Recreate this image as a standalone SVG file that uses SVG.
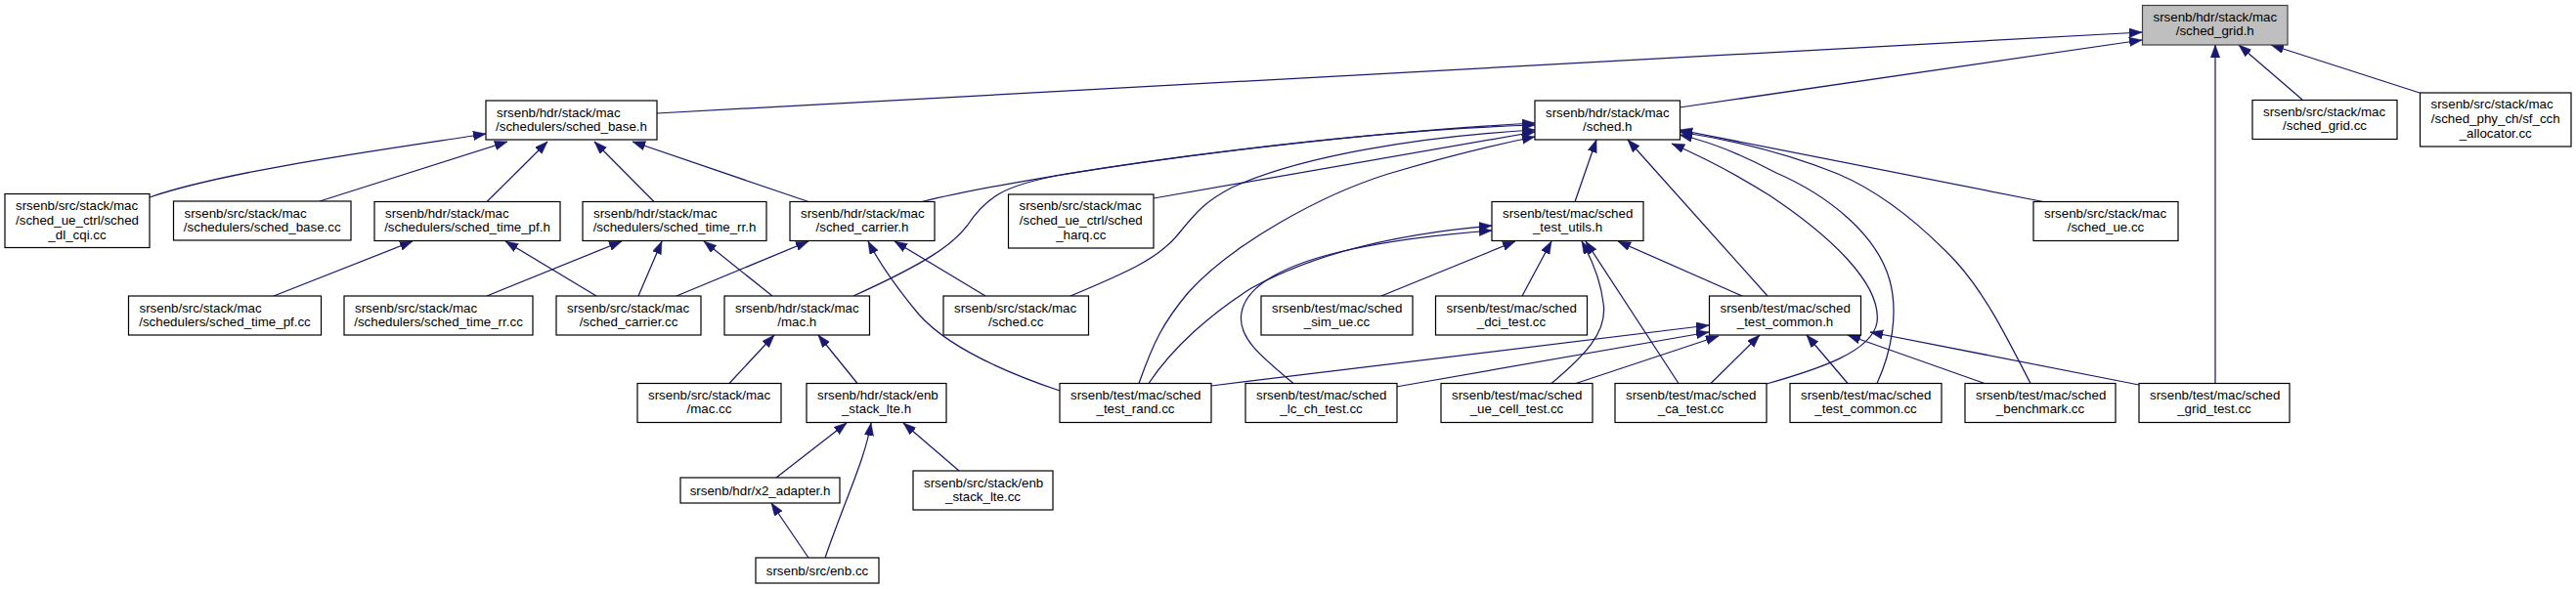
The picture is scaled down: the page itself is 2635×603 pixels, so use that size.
<svg xmlns="http://www.w3.org/2000/svg" width="2635" height="603" viewBox="0 0 2635 603">
<style>
.node rect{fill:#ffffff;stroke:#000000;stroke-width:1.2}
.node.cur rect{fill:#bfbfbf;stroke:#404040}
.node text{font-family:"Liberation Sans",Arial,Helvetica,sans-serif;font-size:13.33px;fill:#000000}
.s{text-anchor:start}
.m{text-anchor:middle}
#edges path{fill:none;stroke:#191970;stroke-width:1.25;marker-end:url(#ah)}
</style>
<defs>
<marker id="ah" markerUnits="userSpaceOnUse" markerWidth="14" markerHeight="10" refX="13" refY="4.7" orient="auto">
<path d="M0,0 L13,4.7 L0,9.4 Z" fill="#191970" stroke="#191970" stroke-width="0.5"/>
</marker>
</defs>
<rect x="0" y="0" width="2635" height="603" fill="#ffffff"/>
<g id="edges">
<path d="M672,116 L2191,33"/>
<path d="M1718,110 L2191,41"/>
<path d="M2355,102 L2290,46"/>
<path d="M2475,95 L2323,46"/>
<path d="M2266,392.5 L2266,46"/>
<path d="M153,202 C230,175 400,152 497,137"/>
<path d="M327,206 L519,145"/>
<path d="M498,206.5 L560,145"/>
<path d="M669,206.5 L608,145"/>
<path d="M827,206.5 L647,145"/>
<path d="M943,206.5 C1050,180 1350,135 1570,128"/>
<path d="M873,303 C950,268 975,250 990,230 C1010,200 1030,190 1080,180 C1200,160 1400,135 1570,126"/>
<path d="M1180,203 L1570,135"/>
<path d="M1095,303 C1150,280 1185,265 1205,240 C1225,215 1235,205 1260,192 C1330,160 1450,140 1570,133"/>
<path d="M1165,392.5 C1180,350 1190,330 1215,300 C1260,250 1350,200 1420,178 C1480,160 1530,148 1570,140"/>
<path d="M1611,206.5 L1633,143"/>
<path d="M1808,303 L1665,143"/>
<path d="M2090,206.5 L1718,133"/>
<path d="M1807,393 C1860,378 1915,360 1920,330 C1925,290 1870,240 1810,200 C1775,178 1740,160 1710,147"/>
<path d="M1920,392.5 C1935,360 1942,320 1933,287 C1920,240 1870,200 1817,177 C1785,160 1750,145 1718,138"/>
<path d="M2077,392.5 C2050,340 2030,300 2000,267 C1960,225 1920,195 1880,178 C1830,158 1770,143 1718,135"/>
<path d="M746,392.5 L792,343"/>
<path d="M877,392.5 L837,343"/>
<path d="M794,489 L866,433"/>
<path d="M844,571 C865,510 885,470 891,433"/>
<path d="M981,482 L924,433"/>
<path d="M827,571 L789,515"/>
<path d="M280,303 L422,247"/>
<path d="M610,303 L517,247"/>
<path d="M498,303 L636,247"/>
<path d="M653,303 L677,247"/>
<path d="M790,303 L720,247"/>
<path d="M692,303 L827,247"/>
<path d="M1008,303 L915,247"/>
<path d="M1084,400 C1010,375 965,350 940,322 C920,298 900,270 888,247"/>
<path d="M1413,303 L1550,247"/>
<path d="M1557,303 L1587,247"/>
<path d="M1175,392.5 C1200,355 1240,320 1280,295 C1340,262 1420,240 1526,231"/>
<path d="M1323,392.5 C1290,365 1265,345 1270,320 C1275,290 1320,270 1370,258 C1420,246 1470,240 1526,236"/>
<path d="M1587,392.5 C1620,365 1645,340 1640,310 C1637,285 1628,265 1618,247"/>
<path d="M1717,392.5 L1622,247"/>
<path d="M1782,303 L1655,247"/>
<path d="M1239,395 L1748,333"/>
<path d="M1428,396 L1748,340"/>
<path d="M1612,392.5 L1758,344"/>
<path d="M1750,392.5 L1800,343"/>
<path d="M1890,392.5 L1848,343"/>
<path d="M2030,392.5 L1890,343"/>
<path d="M2188,394 L1913,340"/>
</g>
<g id="n_sched_grid_h" class="node cur"><rect x="2191.5" y="5.5" width="148.5" height="40.5"/><text class="s" x="2202.5" y="22">srsenb/hdr/stack/mac</text><text class="m" x="2265.75" y="36">/sched_grid.h</text></g>
<g id="n_sched_base_h" class="node"><rect x="497" y="103" width="175" height="40"/><text class="s" x="508" y="119.5">srsenb/hdr/stack/mac</text><text class="m" x="584.5" y="133.5">/schedulers/sched_base.h</text></g>
<g id="n_sched_h" class="node"><rect x="1570" y="103" width="148.5" height="40"/><text class="s" x="1581" y="119.5">srsenb/hdr/stack/mac</text><text class="m" x="1644.25" y="133.5">/sched.h</text></g>
<g id="n_sched_grid_cc" class="node"><rect x="2304" y="102.5" width="148" height="40"/><text class="s" x="2315" y="119">srsenb/src/stack/mac</text><text class="m" x="2378" y="133">/sched_grid.cc</text></g>
<g id="n_sf_cch_allocator_cc" class="node"><rect x="2475.5" y="95" width="154.5" height="55"/><text class="s" x="2486.5" y="111">srsenb/src/stack/mac</text><text class="m" x="2552.75" y="126">/sched_phy_ch/sf_cch</text><text class="m" x="2552.75" y="141">_allocator.cc</text></g>
<g id="n_sched_dl_cqi_cc" class="node"><rect x="5" y="198.5" width="148" height="55"/><text class="s" x="16" y="214.5">srsenb/src/stack/mac</text><text class="m" x="79" y="229.5">/sched_ue_ctrl/sched</text><text class="m" x="79" y="244.5">_dl_cqi.cc</text></g>
<g id="n_sched_base_cc" class="node"><rect x="177.5" y="206" width="181.5" height="40"/><text class="s" x="188.5" y="222.5">srsenb/src/stack/mac</text><text class="m" x="268.25" y="236.5">/schedulers/sched_base.cc</text></g>
<g id="n_sched_time_pf_h" class="node"><rect x="383" y="206.5" width="190" height="40"/><text class="s" x="394" y="223">srsenb/hdr/stack/mac</text><text class="m" x="478" y="237">/schedulers/sched_time_pf.h</text></g>
<g id="n_sched_time_rr_h" class="node"><rect x="596" y="206.5" width="188" height="40"/><text class="s" x="607" y="223">srsenb/hdr/stack/mac</text><text class="m" x="690" y="237">/schedulers/sched_time_rr.h</text></g>
<g id="n_sched_carrier_h" class="node"><rect x="808" y="206.5" width="148" height="40"/><text class="s" x="819" y="223">srsenb/hdr/stack/mac</text><text class="m" x="882" y="237">/sched_carrier.h</text></g>
<g id="n_sched_harq_cc" class="node"><rect x="1031.5" y="199" width="148.5" height="55"/><text class="s" x="1042.5" y="215">srsenb/src/stack/mac</text><text class="m" x="1105.75" y="230">/sched_ue_ctrl/sched</text><text class="m" x="1105.75" y="245">_harq.cc</text></g>
<g id="n_sched_test_utils_h" class="node"><rect x="1526" y="206.5" width="155" height="40"/><text class="s" x="1537" y="223">srsenb/test/mac/sched</text><text class="m" x="1603.5" y="237">_test_utils.h</text></g>
<g id="n_sched_ue_cc" class="node"><rect x="2080" y="206.5" width="148" height="40"/><text class="s" x="2091" y="223">srsenb/src/stack/mac</text><text class="m" x="2154" y="237">/sched_ue.cc</text></g>
<g id="n_sched_time_pf_cc" class="node"><rect x="131.5" y="303" width="197" height="40"/><text class="s" x="142.5" y="319.5">srsenb/src/stack/mac</text><text class="m" x="230" y="333.5">/schedulers/sched_time_pf.cc</text></g>
<g id="n_sched_time_rr_cc" class="node"><rect x="352" y="303" width="193" height="40"/><text class="s" x="363" y="319.5">srsenb/src/stack/mac</text><text class="m" x="448.5" y="333.5">/schedulers/sched_time_rr.cc</text></g>
<g id="n_sched_carrier_cc" class="node"><rect x="569" y="303" width="148" height="40"/><text class="s" x="580" y="319.5">srsenb/src/stack/mac</text><text class="m" x="643" y="333.5">/sched_carrier.cc</text></g>
<g id="n_mac_h" class="node"><rect x="741" y="303" width="148.5" height="40"/><text class="s" x="752" y="319.5">srsenb/hdr/stack/mac</text><text class="m" x="815.25" y="333.5">/mac.h</text></g>
<g id="n_sched_cc" class="node"><rect x="965" y="303" width="148.5" height="40"/><text class="s" x="976" y="319.5">srsenb/src/stack/mac</text><text class="m" x="1039.25" y="333.5">/sched.cc</text></g>
<g id="n_sched_sim_ue_cc" class="node"><rect x="1290" y="303" width="155" height="40"/><text class="s" x="1301" y="319.5">srsenb/test/mac/sched</text><text class="m" x="1367.5" y="333.5">_sim_ue.cc</text></g>
<g id="n_sched_dci_test_cc" class="node"><rect x="1468.5" y="303" width="155" height="40"/><text class="s" x="1479.5" y="319.5">srsenb/test/mac/sched</text><text class="m" x="1546" y="333.5">_dci_test.cc</text></g>
<g id="n_sched_test_common_h" class="node"><rect x="1748.5" y="303" width="155" height="40"/><text class="s" x="1759.5" y="319.5">srsenb/test/mac/sched</text><text class="m" x="1826" y="333.5">_test_common.h</text></g>
<g id="n_mac_cc" class="node"><rect x="652" y="392.5" width="147" height="40"/><text class="s" x="663" y="409">srsenb/src/stack/mac</text><text class="m" x="725.5" y="423">/mac.cc</text></g>
<g id="n_enb_stack_lte_h" class="node"><rect x="825" y="392.5" width="143" height="40"/><text class="s" x="836" y="409">srsenb/hdr/stack/enb</text><text class="m" x="896.5" y="423">_stack_lte.h</text></g>
<g id="n_sched_test_rand_cc" class="node"><rect x="1084" y="392.5" width="155" height="40"/><text class="s" x="1095" y="409">srsenb/test/mac/sched</text><text class="m" x="1161.5" y="423">_test_rand.cc</text></g>
<g id="n_sched_lc_ch_test_cc" class="node"><rect x="1274" y="392.5" width="155" height="40"/><text class="s" x="1285" y="409">srsenb/test/mac/sched</text><text class="m" x="1351.5" y="423">_lc_ch_test.cc</text></g>
<g id="n_sched_ue_cell_test_cc" class="node"><rect x="1474" y="392.5" width="155" height="40"/><text class="s" x="1485" y="409">srsenb/test/mac/sched</text><text class="m" x="1551.5" y="423">_ue_cell_test.cc</text></g>
<g id="n_sched_ca_test_cc" class="node"><rect x="1652" y="392.5" width="155" height="40"/><text class="s" x="1663" y="409">srsenb/test/mac/sched</text><text class="m" x="1729.5" y="423">_ca_test.cc</text></g>
<g id="n_sched_test_common_cc" class="node"><rect x="1831" y="392.5" width="155" height="40"/><text class="s" x="1842" y="409">srsenb/test/mac/sched</text><text class="m" x="1908.5" y="423">_test_common.cc</text></g>
<g id="n_sched_benchmark_cc" class="node"><rect x="2010" y="392.5" width="154" height="40"/><text class="s" x="2021" y="409">srsenb/test/mac/sched</text><text class="m" x="2087" y="423">_benchmark.cc</text></g>
<g id="n_sched_grid_test_cc" class="node"><rect x="2188" y="392.5" width="154" height="40"/><text class="s" x="2199" y="409">srsenb/test/mac/sched</text><text class="m" x="2265" y="423">_grid_test.cc</text></g>
<g id="n_x2_adapter_h" class="node"><rect x="696" y="489" width="163" height="26"/><text class="m" x="777.5" y="506.5">srsenb/hdr/x2_adapter.h</text></g>
<g id="n_enb_stack_lte_cc" class="node"><rect x="934" y="482" width="143" height="40"/><text class="s" x="945" y="498.5">srsenb/src/stack/enb</text><text class="m" x="1005.5" y="512.5">_stack_lte.cc</text></g>
<g id="n_enb_cc" class="node"><rect x="773" y="571" width="126" height="26"/><text class="m" x="836" y="588.5">srsenb/src/enb.cc</text></g>
</svg>
